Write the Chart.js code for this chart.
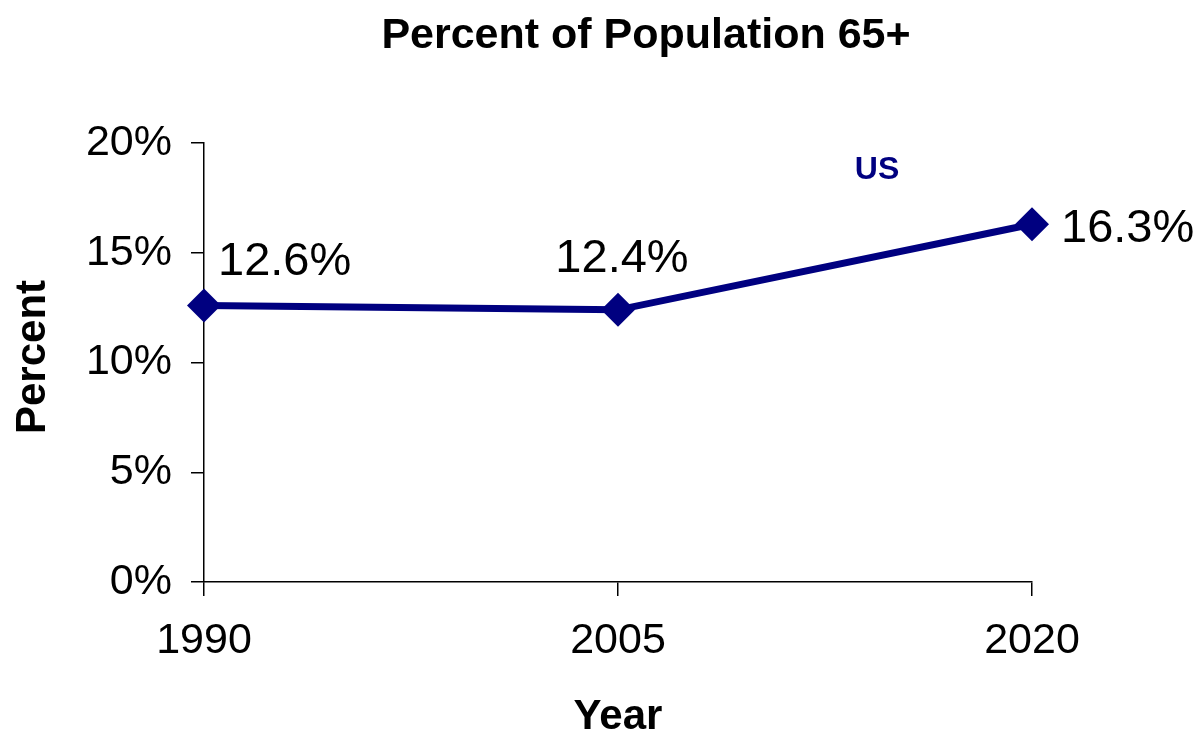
<!DOCTYPE html>
<html>
<head>
<meta charset="utf-8">
<title>Percent of Population 65+</title>
<script src="https://cdn.jsdelivr.net/npm/chart.js@4/dist/chart.umd.min.js"></script>
<style>
  html, body { margin: 0; padding: 0; background: #fff; }
  canvas { display: block; }
</style>
</head>
<body>
<canvas id="popChart" width="1202" height="735"></canvas>
<script>
// --- Data ---
const years = ['1990', '2005', '2020'];
const usPercent = [12.6, 12.4, 16.3];
const yTicks = [0, 5, 10, 15, 20];

const NAVY = '#000080';
const FONT = "'Liberation Sans', Arial, sans-serif";

// Text that Chart.js does not draw itself: title, axis titles, series name, value labels
const textPlugin = {
    id: 'chartText',
    afterDatasetsDraw(chart) {
        const ctx = chart.ctx;
        const meta = chart.getDatasetMeta(0);
        ctx.save();
        ctx.fillStyle = '#000';
        ctx.textBaseline = 'middle';
        ctx.textAlign = 'center';
        ctx.font = 'bold 43px ' + FONT;
        ctx.fillText('Percent of Population 65+', 646, 36);
        ctx.font = 'bold 42px ' + FONT;
        ctx.fillText('Year', 618, 717);
        ctx.save();
        ctx.translate(33, 357);
        ctx.rotate(-Math.PI / 2);
        ctx.fillText('Percent', 0, 0);
        ctx.restore();

        ctx.fillStyle = NAVY;
        ctx.font = 'bold 32px ' + FONT;
        ctx.fillText('US', 877, 170);

        // value labels next to each point
        const offsets = [[14, -30, 'left'], [4, -38, 'center'], [29, 18, 'left']];
        ctx.fillStyle = '#000';
        ctx.font = '47px ' + FONT;
        ctx.textBaseline = 'alphabetic';
        meta.data.forEach((pt, i) => {
            const [dx, dy, align] = offsets[i];
            ctx.textAlign = align;
            ctx.fillText(usPercent[i].toFixed(1) + '%', pt.x + dx, pt.y + dy);
        });
        ctx.restore();
    }
};

new Chart(document.getElementById('popChart'), {
    type: 'line',
    data: {
        labels: years,
        datasets: [{
            label: 'US',
            data: usPercent,
            borderColor: NAVY,
            backgroundColor: NAVY,
            borderWidth: 7,
            tension: 0,
            pointStyle: 'rectRot',
            pointRadius: 17,
            pointBorderWidth: 0,
            pointBackgroundColor: NAVY
        }]
    },
    options: {
        responsive: false,
        animation: false,
        layout: { padding: { top: 143, right: 170, left: 0, bottom: 0 } },
        plugins: {
            legend: { display: false },
            tooltip: { enabled: false }
        },
        scales: {
            x: {
                type: 'category',
                offset: false,
                border: { color: '#000', width: 1.5 },
                grid: { drawOnChartArea: false, color: '#000', lineWidth: 1.5, tickLength: 14, offset: false },
                ticks: { color: '#000', font: { family: FONT, size: 43 }, padding: 19, maxRotation: 0 },
                afterFit: s => { s.height = 153; }
            },
            y: {
                min: 0,
                max: 20,
                afterBuildTicks: s => { s.ticks = yTicks.map(v => ({ value: v })); },
                border: { color: '#000', width: 1.5 },
                grid: { drawOnChartArea: false, color: '#000', lineWidth: 1.5, tickLength: 13 },
                ticks: { color: '#000', font: { family: FONT, size: 43 }, padding: 19, callback: v => v + '%' },
                afterFit: s => { s.width = 204; }
            }
        }
    },
    plugins: [textPlugin]
});
</script>
</body>
</html>
